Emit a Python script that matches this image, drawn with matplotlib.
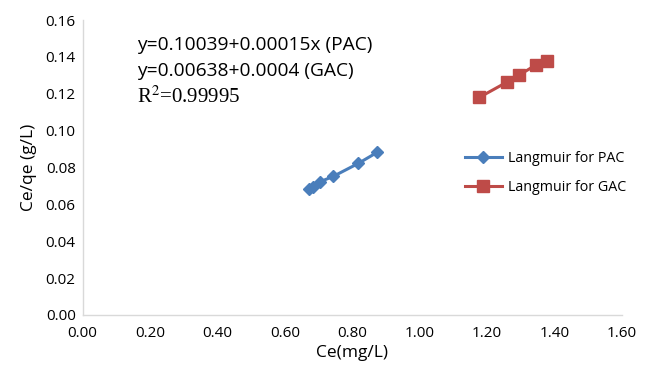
import matplotlib
matplotlib.use("Agg")
import matplotlib.pyplot as plt

pac_x = [0.672, 0.684, 0.704, 0.744, 0.818, 0.874]
pac_y = [0.0683, 0.0696, 0.0722, 0.0752, 0.0822, 0.0882]
gac_x = [1.177, 1.258, 1.296, 1.345, 1.377]
gac_y = [0.1180, 0.1262, 0.1302, 0.1356, 0.1380]

x_ticks = [0.0, 0.2, 0.4, 0.6, 0.8, 1.0, 1.2, 1.4, 1.6]
y_ticks = [0.0, 0.02, 0.04, 0.06, 0.08, 0.10, 0.12, 0.14, 0.16]
series_names = ["Langmuir for PAC", "Langmuir for GAC"]
eq_lines = ["y=0.10039+0.00015x (PAC)", "y=0.00638+0.0004 (GAC)"]
r2_text = "R$^2$=0.99995"

plt.rcParams['font.family'] = ['Open Sans', 'DejaVu Sans']

fig = plt.figure(figsize=(6.48, 3.74), dpi=100)
ax = fig.add_axes([0.1276, 0.158, 0.832, 0.7885])

blue = "#4a7ebb"
red = "#be4b48"
ax.plot(pac_x, pac_y, color=blue, lw=2.2, marker="D", markersize=6,
        label=series_names[0])
ax.plot(gac_x, gac_y, color=red, lw=2.2, marker="s", markersize=8.5,
        label=series_names[1])

ax.set_xlim(0, 1.6)
ax.set_ylim(0, 0.16)
ax.set_xticks(x_ticks)
ax.set_yticks(y_ticks)
ax.set_xticklabels([f"{v:.2f}" for v in x_ticks], fontsize=11)
ax.set_yticklabels([f"{v:.2f}" for v in y_ticks], fontsize=11)
ax.tick_params(length=0, pad=5)
ax.tick_params(axis='x', pad=8)
for s in ["top", "right"]:
    ax.spines[s].set_visible(False)
for s in ["left", "bottom"]:
    ax.spines[s].set_color("#d9d9d9")
    ax.spines[s].set_linewidth(1)

ax.set_xlabel("Ce(mg/L)", fontsize=12.5, labelpad=3)
ax.set_ylabel("Ce/qe (g/L)", fontsize=12.5, labelpad=6)

fig.text(137/648, 1 - 45/374, eq_lines[0], fontsize=13.8, va="center", ha="left")
fig.text(137/648, 1 - 71/374, eq_lines[1], fontsize=13.8, va="center", ha="left")
fig.text(137/648, 1 - 97/374, r2_text, fontsize=15, va="center", ha="left",
         family=['Liberation Serif', 'DejaVu Serif'], math_fontfamily='stix')

leg = ax.legend(loc="upper left", bbox_to_anchor=(0.685, 0.60), frameon=False,
                fontsize=10.3, handlelength=2.6, labelspacing=1.0, handletextpad=0.4)

fig.savefig("out.png", dpi=100)
